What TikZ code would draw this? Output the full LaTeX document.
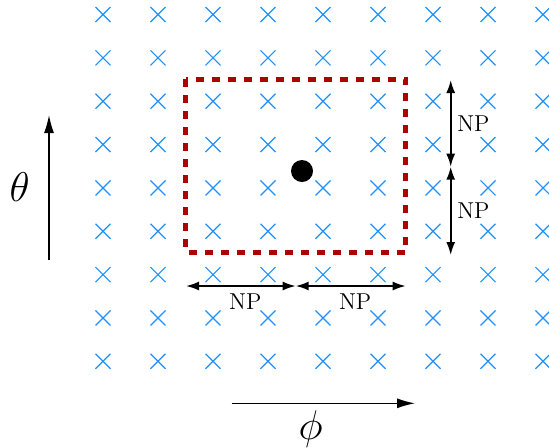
\documentclass[tikz,border=0pt]{standalone}
\usepackage{amsmath,amssymb}
\usepackage{tikz}
\usetikzlibrary{arrows.meta,positioning}
\definecolor{gblue}{HTML}{1E90FF}
\definecolor{wred}{HTML}{B00000}
\tikzset{
  gridx/.style={draw=gblue, line width=0.6pt},
  window/.style={draw=wred, line width=2.6pt, dash pattern=on 4pt off 4pt},
  dot/.style={circle, fill=black, inner sep=0pt, minimum size=11pt},
  dim/.style={{Latex[length=6.5pt,width=4.5pt]}-{Latex[length=6.5pt,width=4.5pt]}, line width=0.9pt},
  axis/.style={-{Latex[length=9pt,width=5pt]}, line width=0.7pt},
  lbl/.style={font=\fontsize{11.5}{13}\selectfont},
  big/.style={font=\huge},
}

\begin{document}
\begin{tikzpicture}[x=0.5pt, y=-0.5pt]
  \useasboundingbox (0,0) rectangle (549,447);

  \foreach \i in {0,...,8}
    \foreach \j in {0,...,8}
      \draw[gridx] ({103+55*\i},{14.5+43.35*\j}) ++(-7.5,-7.5) -- ++(15,15) ++(-15,0) -- ++(15,-15);

  \draw[window] (185.7,79.3) rectangle (405.7,252.3);
  \node[dot] (src) at (302,171) {};

  \coordinate (h1) at (186,286);
  \coordinate (h2) at (295.7,286);
  \coordinate (h3) at (405.7,286);
  \draw[dim] (h1) -- node[lbl, below, pos=0.54] {NP} (h2);
  \draw[dim] (h2) -- node[lbl, below, pos=0.54] {NP} (h3);

  \coordinate (v1) at (450.7,80);
  \coordinate (v2) at (450.7,166.7);
  \coordinate (v3) at (450.7,255);
  \draw[dim] (v1) -- node[lbl, right=-0.5pt] {NP} (v2);
  \draw[dim] (v2) -- node[lbl, right=-0.5pt] {NP} (v3);

  \coordinate (t0) at (49,260);
  \coordinate (t1) at (49,115);
  \draw[axis] (t0) -- node[big, left=6pt] {$\theta$} (t1);

  \coordinate (p0) at (231.7,403.3);
  \coordinate (p1) at (415,403.3);
  \draw[axis] (p0) -- node[big, below=0pt, pos=0.43] {$\phi$} (p1);
\end{tikzpicture}
\end{document}
